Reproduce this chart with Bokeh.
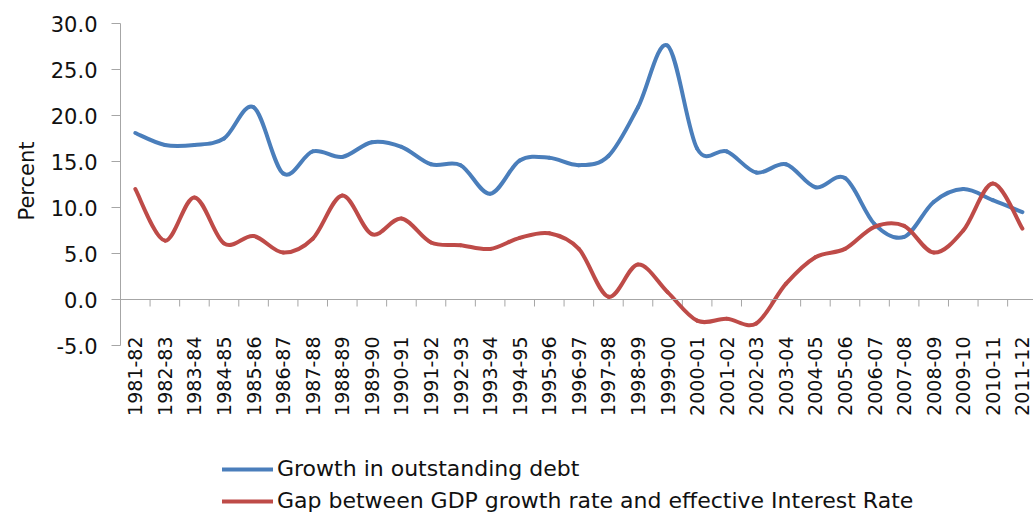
import math
import numpy as np
from bokeh.plotting import figure
from bokeh.models import (Range1d, FixedTicker, NumeralTickFormatter, Title,
                          Legend, LegendItem, ColumnDataSource, Span)
from bokeh.core.properties import value
from bokeh.embed import file_html
from bokeh.resources import INLINE

years = ["1981-82", "1982-83", "1983-84", "1984-85", "1985-86", "1986-87", "1987-88",
         "1988-89", "1989-90", "1990-91", "1991-92", "1992-93", "1993-94", "1994-95",
         "1995-96", "1996-97", "1997-98", "1998-99", "1999-00", "2000-01", "2001-02",
         "2002-03", "2003-04", "2004-05", "2005-06", "2006-07", "2007-08", "2008-09",
         "2009-10", "2010-11", "2011-12"]
debt_growth = [18.1, 16.8, 16.8, 17.5, 20.9, 13.7, 16.1, 15.5, 17.1, 16.6, 14.7, 14.6,
               11.5, 15.1, 15.4, 14.6, 15.6, 20.9, 27.6, 16.4, 16.1, 13.8, 14.7, 12.2,
               13.2, 8.2, 6.8, 10.6, 12.0, 10.8, 9.5]
gdp_gap = [12.0, 6.4, 11.1, 6.1, 6.9, 5.1, 6.6, 11.3, 7.1, 8.8, 6.2, 5.9, 5.5, 6.7, 7.2,
           5.5, 0.3, 3.8, 0.8, -2.3, -2.1, -2.6, 1.7, 4.6, 5.5, 7.9, 8.0, 5.1, 7.5, 12.6, 7.7]
y_ticks = [-5, 0, 5, 10, 15, 20, 25, 30]
y_title = "Percent"
series_names = ["Growth in outstanding debt",
                "Gap between GDP growth rate and effective Interest Rate"]

BLUE = "#4a7ebb"
RED = "#be4b48"
AXIS = "#a6a6a6"
TEXT = "#111111"
FONT = "DejaVu Sans"

W, H = 1033, 513
LEFT, TOP = 120, 23
PLOT_H = 322                      # pixel height of the -5 .. 30 value band
Y0, Y1 = -5, 30
PX_PER_UNIT = PLOT_H / (Y1 - Y0)
FRAME_H = H - TOP
Y_BOTTOM = Y0 - (FRAME_H - PLOT_H) / PX_PER_UNIT
n = len(years)
xs = np.arange(n, dtype=float)


def smooth_source(vals):
    """Bezier control points (Excel-style smoothed line) computed from the data."""
    y = np.asarray(vals, dtype=float)
    xp = np.concatenate([[xs[0]], xs, [xs[-1]]])
    yp = np.concatenate([[y[0]], y, [y[-1]]])
    x0, y0 = xs[:-1], y[:-1]
    x1, y1 = xs[1:], y[1:]
    cx0 = x0 + (xp[2:-1] - xp[0:-3]) / 6.0
    cy0 = y0 + (yp[2:-1] - yp[0:-3]) / 6.0
    cx1 = x1 - (xp[3:] - xp[1:-2]) / 6.0
    cy1 = y1 - (yp[3:] - yp[1:-2]) / 6.0
    return ColumnDataSource(dict(x0=x0, y0=y0, x1=x1, y1=y1,
                                 cx0=cx0, cy0=cy0, cx1=cx1, cy1=cy1))


p = figure(frame_width=W - LEFT, frame_height=FRAME_H, output_backend="svg",
           toolbar_location=None,
           x_range=Range1d(-0.5, 30.375), y_range=Range1d(Y_BOTTOM, Y1),
           x_axis_location=None, y_axis_location="left",
           min_border_left=LEFT, min_border_right=0, min_border_top=TOP,
           min_border_bottom=0)
p.outline_line_color = None
p.grid.grid_line_color = None
p.background_fill_color = "white"
p.border_fill_color = "white"

# y axis (drawn only over -5 .. 30)
ya = p.yaxis[0]
ya.bounds = (Y0, Y1)
ya.ticker = FixedTicker(ticks=y_ticks, minor_ticks=[])
ya.formatter = NumeralTickFormatter(format="0.0")
ya.axis_line_color = AXIS
ya.major_tick_line_color = AXIS
ya.major_tick_out = 9
ya.major_tick_in = 0
ya.minor_tick_line_color = None
ya.major_label_standoff = 14
ya.major_label_text_font = FONT
ya.major_label_text_font_size = "21px"
ya.major_label_text_color = TEXT

# y axis title, placed beside the -5 .. 30 band
p.add_layout(Title(text=y_title, align="left", offset=293, standoff=18,
                   text_font=FONT, text_font_size="21px", text_font_style="normal",
                   text_color=TEXT), "left")

# horizontal axis line at zero, tick marks between categories
p.add_layout(Span(location=0, dimension="width", line_color=AXIS, line_width=1))
boundaries = xs + 0.5
tick_len = 7 / PX_PER_UNIT
p.segment(x0=boundaries, y0=np.zeros(n), x1=boundaries, y1=np.full(n, -tick_len),
          line_color=AXIS, line_width=1)

# category labels under the plot area, reading upwards
lab_src = ColumnDataSource(dict(x=xs, y=np.full(n, float(Y0)), text=years))
p.text(x="x", y="y", text="text", source=lab_src, angle=math.pi / 2,
       text_align="right", text_baseline="middle", y_offset=-9,
       text_font=value(FONT), text_font_size="19px", text_color=TEXT)

rb = p.bezier(x0="x0", y0="y0", x1="x1", y1="y1", cx0="cx0", cy0="cy0", cx1="cx1", cy1="cy1",
              source=smooth_source(debt_growth), line_color=BLUE, line_width=4,
              line_cap="round", line_join="round")
rr = p.bezier(x0="x0", y0="y0", x1="x1", y1="y1", cx0="cx0", cy0="cy0", cx1="cx1", cy1="cy1",
              source=smooth_source(gdp_gap), line_color=RED, line_width=4,
              line_cap="round", line_join="round")

legend = Legend(items=[LegendItem(label=series_names[0], renderers=[rb]),
                       LegendItem(label=series_names[1], renderers=[rr])],
                location=(102, 0), orientation="vertical",
                border_line_color=None, background_fill_alpha=0,
                padding=0, margin=0, glyph_width=51, glyph_height=24,
                label_height=24, spacing=7, label_standoff=4,
                label_text_font=FONT, label_text_font_size="22px",
                label_text_color=TEXT)
p.add_layout(legend)

open("out.html", "w").write(file_html(p, INLINE))
